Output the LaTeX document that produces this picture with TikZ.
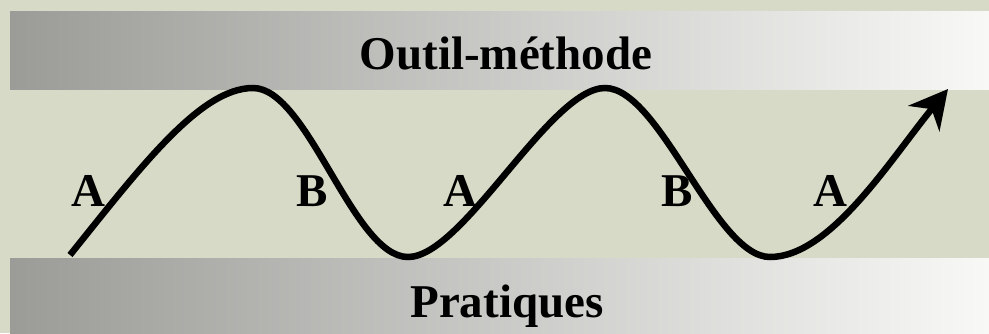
\documentclass[tikz,border=0pt]{standalone}
\usepackage{fontspec}
\setmainfont{Liberation Serif}
\usetikzlibrary{arrows.meta}
\definecolor{bgcol}{RGB}{215,218,198}
\definecolor{bandleft}{RGB}{155,156,152}
\definecolor{bandright}{RGB}{248,248,246}
\tikzset{
  band/.style={left color=bandleft, right color=bandright, draw=none},
  bigtxt/.style={font=\fontsize{47}{51}\selectfont\bfseries, anchor=base, inner sep=0pt},
  wave/.style={line width=6.5pt, -{Stealth[length=38pt,width=40pt,inset=12pt]}}
}
\begin{document}
\begin{tikzpicture}[x=1pt,y=-1pt]
\useasboundingbox (0,0) rectangle (989,333);
\fill[bgcol] (0,0) rectangle (989,333);
\shade[band] (10,11) rectangle (989,89);
\shade[band] (10,258) rectangle (989,333);
\node[bigtxt] (top) at (506,69) {Outil-méthode};
\node[bigtxt] (bot) at (507,317) {Pratiques};
\node[bigtxt] (a1) at (88,206) {A};
\node[bigtxt] (b1) at (312,206) {B};
\node[bigtxt] (a2) at (460,206) {A};
\node[bigtxt] (b2) at (677,206) {B};
\node[bigtxt] (a3) at (830,206) {A};
\coordinate (s) at (70,255);
\coordinate (p1) at (253,88);
\coordinate (t1) at (408,257);
\coordinate (p2) at (605,88);
\coordinate (t2) at (770,257);
\coordinate (e) at (948,89);
\draw[wave] (s) .. controls (140,168) and (200,88) .. (p1)
  .. controls (308,88) and (353,257) .. (t1)
  .. controls (463,257) and (550,88) .. (p2)
  .. controls (660,88) and (715,257) .. (t2)
  .. controls (830,257) and (890,160) .. (e);
\end{tikzpicture}
\end{document}
